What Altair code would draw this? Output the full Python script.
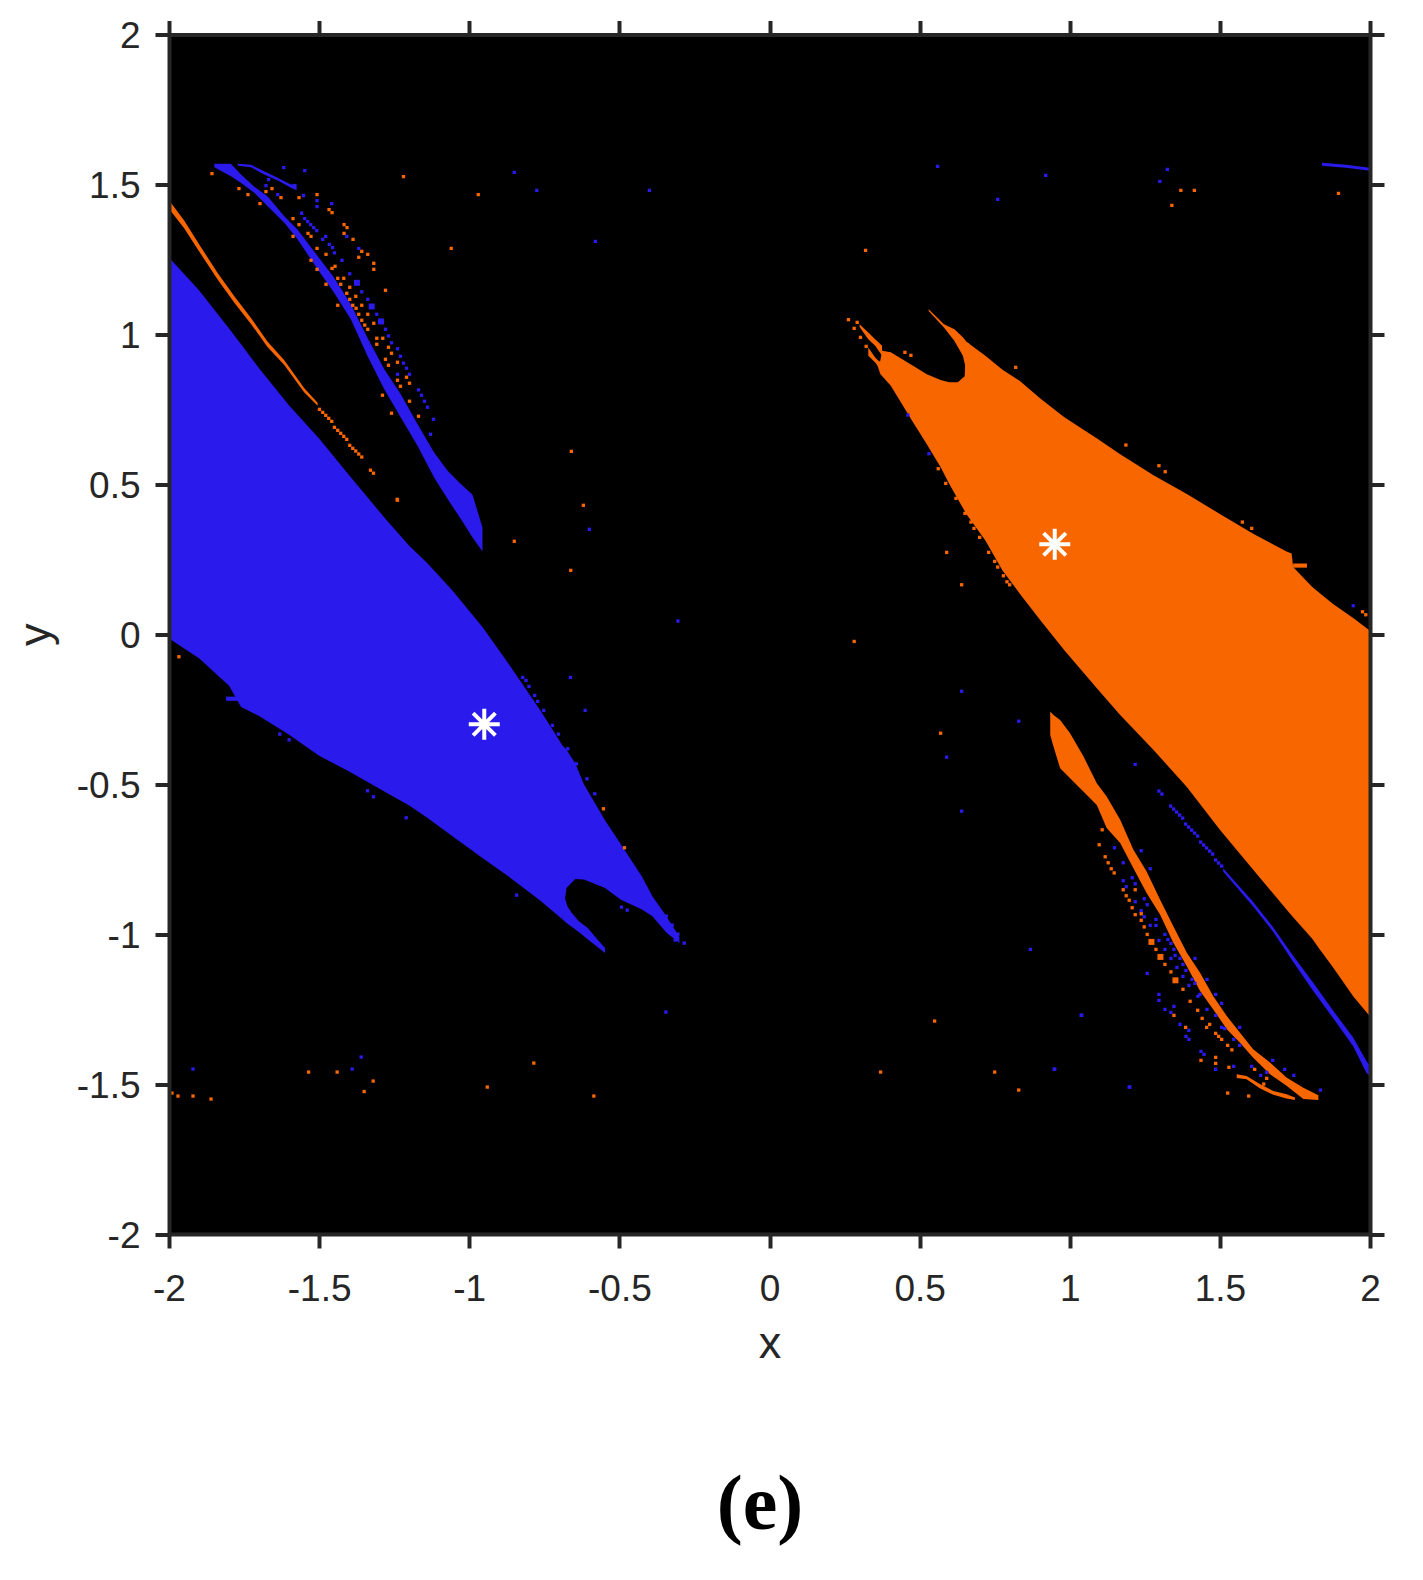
import altair as alt
import pandas as pd

BLUE = "#2A1AEC"
ORANGE = "#F86600"
TICKS = [-2, -1.5, -1, -0.5, 0, 0.5, 1, 1.5, 2]
panel_label = "(e)"

# Filled regions: (x, upper y, lower y)
blue_main = [(-2.0,1.256,-0.014),(-1.90,1.147,-0.08),(-1.80,1.020,-0.172),(-1.76,0.967,-0.243),(-1.70,0.887,-0.273),
 (-1.60,0.763,-0.335),(-1.50,0.653,-0.405),(-1.40,0.530,-0.458),(-1.28,0.386,-0.526),(-1.20,0.295,-0.571),
 (-1.14,0.238,-0.612),(-1.056,0.146,-0.674),(-0.956,0.024,-0.746),(-0.869,-0.098,-0.808),(-0.764,-0.253,-0.888),
 (-0.69,-0.37,-0.95),(-0.676,-0.385,-0.846),(-0.647,-0.43,-0.816),(-0.618,-0.50,-0.818),(-0.548,-0.62,-0.846),
 (-0.495,-0.70,-0.885),(-0.425,-0.808,-0.918),(-0.39,-0.874,-0.94),(-0.343,-0.941,-0.995),(-0.30,-1.01,-1.03)]
blue_branch = [(-0.69,-0.85,-0.95),(-0.673,-0.907,-0.965),(-0.659,-0.929,-0.975),(-0.635,-0.957,-0.993),
 (-0.606,-0.979,-1.017),(-0.577,-1.013,-1.04),(-0.548,-1.046,-1.063)]
blue_spur = [(-1.81,-0.208,-0.222),(-1.77,-0.208,-0.222)]
blue_band = [(-1.849,1.569,1.557),(-1.794,1.569,1.527),(-1.76,1.533,1.505),(-1.716,1.492,1.472),(-1.672,1.461,1.428),
 (-1.616,1.394,1.372),(-1.572,1.35,1.317),(-1.505,1.261,1.217),(-1.45,1.189,1.139),(-1.394,1.10,1.05),
 (-1.339,0.989,0.928),(-1.283,0.884,0.817),(-1.228,0.80,0.723),(-1.172,0.70,0.628),(-1.117,0.606,0.523),
 (-1.072,0.545,0.451),(-1.028,0.501,0.384),(-0.989,0.465,0.323),(-0.956,0.356,0.276)]
blue_arc = [(-1.771,1.569,1.562),(-1.727,1.566,1.557),(-1.683,1.544,1.533),(-1.638,1.522,1.513),(-1.594,1.50,1.489),(-1.575,1.502,1.481)]
blue_stripe = [(1.511,-0.78,-0.791),(1.611,-0.893,-0.908),(1.678,-0.978,-0.993),(1.744,-1.072,-1.092),(1.811,-1.162,-1.19),
 (1.877,-1.255,-1.28),(1.944,-1.345,-1.374),(1.988,-1.423,-1.462),(2.0,-1.44,-1.475)]
blue_top_line = [(1.84,1.572,1.562),(1.92,1.566,1.556),(2.0,1.556,1.546)]

orange_main = [(0.36,0.905,0.895),(0.369,0.912,0.868),(0.375,0.945,0.861),(0.404,0.94,0.829),(0.478,0.895,0.707),(0.524,0.867,0.634),
 (0.57,0.848,0.557),(0.598,0.84,0.503),(0.627,0.84,0.451),(0.65,0.86,0.411),(0.656,0.975,0.40),(0.719,0.929,0.313),
 (0.776,0.882,0.213),(0.833,0.845,0.136),(0.902,0.786,0.047),(0.982,0.724,-0.053),(1.091,0.653,-0.181),
 (1.168,0.60,-0.269),(1.279,0.53,-0.386),(1.39,0.468,-0.509),(1.5,0.401,-0.652),(1.611,0.335,-0.785),
 (1.722,0.276,-0.918),(1.739,0.269,-0.938),(1.744,0.224,-0.944),(1.807,0.158,-1.015),(1.833,0.137,-1.051),
 (1.876,0.102,-1.11),(1.944,0.054,-1.207),(2.0,0.012,-1.275)]
orange_branch = [(0.53,1.084,1.078),(0.581,1.034,1.023),(0.616,1.017,0.978),(0.644,0.99,0.929),(0.656,0.975,0.879),(0.667,0.967,0.85)]
orange_spur = [(1.744,0.236,0.222),(1.79,0.236,0.222)]
orange_tail_a = [(0.30,1.034,1.025),(0.329,1.006,0.984),(0.352,0.984,0.962),(0.375,0.962,0.929)]
orange_tail_b = [(0.329,0.956,0.929),(0.352,0.923,0.906),(0.369,0.906,0.884)]
orange_band = [(0.935,-0.258,-0.336),(0.946,-0.269,-0.375),(0.968,-0.286,-0.447),(1.001,-0.33,-0.48),(1.046,-0.408,-0.525),
 (1.09,-0.497,-0.569),(1.123,-0.541,-0.646),(1.168,-0.619,-0.696),(1.212,-0.719,-0.78),(1.256,-0.791,-0.863),
 (1.301,-0.885,-0.935),(1.345,-0.974,-1.029),(1.39,-1.062,-1.107),(1.434,-1.129,-1.19),(1.478,-1.207,-1.251),
 (1.523,-1.273,-1.317),(1.567,-1.329,-1.362),(1.611,-1.384,-1.412),(1.667,-1.428,-1.467),(1.722,-1.478,-1.506),
 (1.778,-1.512,-1.55),(1.828,-1.537,-1.553)]
orange_arc = [(1.556,-1.467,-1.48),(1.589,-1.473,-1.484),(1.633,-1.50,-1.514),(1.678,-1.523,-1.536),(1.722,-1.534,-1.548),(1.75,-1.545,-1.553)]
orange_stripe = [(-2.0,1.447,1.419),(-1.949,1.379,1.353),(-1.893,1.29,1.266),(-1.838,1.205,1.183),(-1.783,1.128,1.106),
 (-1.727,1.055,1.035),(-1.672,0.976,0.958),(-1.616,0.914,0.898),(-1.55,0.821,0.807),(-1.505,0.772,0.762)]

blue_regions = [blue_main, blue_branch, blue_spur, blue_band, blue_arc, blue_stripe, blue_top_line]
orange_regions = [orange_main, orange_branch, orange_spur, orange_tail_a, orange_tail_b, orange_band, orange_arc, orange_stripe]

# Isolated cells
blue_dots = [(-1.618,1.556),(-1.548,1.546),(-1.668,1.516),(-1.677,1.496),(-1.638,1.466),(-1.507,1.446),(-1.507,1.426),(-1.458,1.436),
 (-1.548,1.386),(-1.538,1.376),(-1.528,1.366),(-1.518,1.356),(-1.508,1.346),(-1.478,1.327),(-1.488,1.317),(-1.408,1.327),(-1.368,1.287),
 (-1.398,1.202),(-1.358,1.142),(-1.338,1.117),(-1.308,1.067),(-1.279,1.017),(-1.239,0.952),(-1.229,0.927),(-1.209,0.887),(-1.239,0.867),
 (-1.199,0.867),(-1.159,0.797),(-1.149,0.777),(-1.139,0.757),(-1.119,0.717),(-1.129,0.667),(-1.466,1.30),(-1.455,1.289),(-1.449,1.272),
 (-1.424,1.247),(-1.269,0.995),(-1.259,0.972),(-1.219,0.904),(-1.169,0.815),(-1.558,1.404),(-1.552,1.463),
 (1.297,-0.523),(1.307,-0.533),(1.336,-0.573),(1.346,-0.583),(1.356,-0.593),(1.366,-0.603),(1.376,-0.613),(1.386,-0.633),(1.396,-0.643),
 (1.406,-0.653),(1.416,-0.663),(1.426,-0.673),(1.436,-0.693),(1.446,-0.703),(1.456,-0.713),(1.466,-0.723),(1.476,-0.733),(1.486,-0.753),
 (1.496,-0.763),(1.506,-0.773),(1.218,-0.434),
 (1.149,-0.712),(1.238,-0.722),(1.178,-0.762),(1.268,-0.782),(1.208,-0.812),(1.178,-0.822),(1.218,-0.832),(1.188,-0.842),(1.248,-0.882),
 (1.218,-0.892),(1.258,-0.902),(1.238,-0.922),(1.248,-0.942),(1.287,-0.951),(1.268,-0.971),(1.287,-0.971),(1.317,-1.001),(1.327,-1.018),
 (1.297,-1.021),(1.337,-1.031),(1.317,-1.051),(1.347,-1.051),(1.417,-1.081),(1.337,-1.081),(1.367,-1.081),(1.351,-1.071),(1.377,-1.101),
 (1.357,-1.111),(1.387,-1.121),(1.377,-1.141),(1.407,-1.151),(1.397,-1.171),(1.417,-1.164),(1.457,-1.151),(1.486,-1.201),(1.434,-1.201),
 (1.427,-1.207),(1.297,-1.201),(1.297,-1.221),(1.347,-1.241),(1.317,-1.251),(1.337,-1.261),(1.457,-1.251),(1.506,-1.231),(1.486,-1.271),
 (1.367,-1.301),(1.397,-1.321),(1.387,-1.341),(1.397,-1.351),(1.506,-1.311),(1.516,-1.315),(1.566,-1.311),(1.546,-1.351),(1.566,-1.371),
 (1.437,-1.391),(1.447,-1.401),(1.486,-1.451),(1.546,-1.441),(1.606,-1.441),(1.636,-1.471),(1.656,-1.461),(1.676,-1.421),(1.716,-1.451),
 (1.746,-1.471),(1.835,-1.52),(0.869,-1.051),(1.258,-1.131),(1.038,-1.271),(0.948,-1.451),(1.198,-1.51),
 (-0.822,-0.144),(-0.811,-0.154),(-0.801,-0.174),(-0.782,-0.204),(-0.772,-0.224),(-0.752,-0.254),(-0.723,-0.304),(-0.703,-0.333),
 (-0.672,-0.382),(-0.643,-0.432),(-0.608,-0.482),(-0.582,-0.532),(-0.663,-0.144),(-0.614,-0.254),(-0.305,0.044),(-1.631,-0.333),
 (-1.6,-0.352),(-1.339,-0.522),(-1.319,-0.542),(-1.21,-0.612),(-0.842,-0.87),(-0.493,-0.91),(-0.474,-0.92),(-0.344,-0.94),(-0.324,-0.97),
 (-0.305,-1.0),(-0.314,-1.02),(-0.284,-1.03),
 (0.461,0.731),(0.531,0.602),(1.944,0.095),
 (-0.85,1.54),(-0.775,1.48),(-0.40,1.48),(-0.58,1.31),(-0.60,0.35),(0.56,1.56),(0.92,1.53),(0.76,1.45),(1.30,1.51),(1.325,1.55),
 (0.83,-0.29),(0.64,-0.19),(0.59,-0.41),(0.64,-0.59),(-0.345,-1.26),(1.04,-1.27),(0.95,-1.45),(1.2,-1.51),(-1.92,-1.45),(-1.39,-1.45),(-1.36,-1.41)]
blue_blobs = [(-1.374,1.172),(-1.325,1.093),(-1.294,1.043)]

orange_dots = [(-1.857,1.536),(-1.767,1.486),(-1.737,1.466),(-1.697,1.436),(-1.677,1.476),(-1.657,1.486),(-1.627,1.456),(-1.567,1.456),
 (-1.507,1.466),(-1.467,1.416),(-1.457,1.406),(-1.587,1.386),(-1.567,1.366),(-1.587,1.327),(-1.537,1.337),(-1.527,1.327),(-1.417,1.366),
 (-1.407,1.356),(-1.417,1.337),(-1.387,1.317),(-1.507,1.287),(-1.477,1.267),(-1.527,1.247),(-1.507,1.217),(-1.457,1.22),(-1.447,1.227),
 (-1.358,1.277),(-1.338,1.267),(-1.368,1.257),(-1.318,1.237),(-1.318,1.217),(-1.477,1.167),(-1.438,1.187),(-1.428,1.167),(-1.418,1.187),
 (-1.398,1.157),(-1.408,1.137),(-1.398,1.117),(-1.378,1.127),(-1.279,1.147),(-1.438,1.097),(-1.388,1.097),(-1.358,1.097),(-1.377,1.087),
 (-1.368,1.067),(-1.338,1.067),(-1.358,1.047),(-1.348,1.031),(-1.338,1.017),(-1.318,1.037),(-1.308,0.987),(-1.288,0.987),(-1.308,0.967),
 (-1.269,0.957),(-1.259,0.937),(-1.279,0.917),(-1.239,0.907),(-1.269,0.897),(-1.209,0.857),(-1.239,0.847),(-1.199,0.837),(-1.229,0.827),
 (-1.289,0.797),(-1.199,0.777),(-1.259,0.737),(-1.169,0.727),(-1.329,0.547),(-1.319,0.537),(-1.239,0.447),(-1.219,1.526),(-0.97,1.466),(-1.06,1.287),
 (-1.499,0.75),(-1.488,0.74),(-1.478,0.73),(-1.468,0.72),(-1.458,0.71),(-1.449,0.69),(-1.438,0.68),(-1.428,0.67),(-1.418,0.66),(-1.408,0.65),
 (-1.398,0.63),(-1.388,0.62),(-1.378,0.611),(-1.368,0.601),(-1.358,0.591),
 (1.108,-0.652),(1.098,-0.702),(1.118,-0.742),(1.128,-0.762),(1.138,-0.782),(1.148,-0.796),(1.178,-0.852),(1.218,-0.852),(1.188,-0.872),
 (1.198,-0.887),(1.208,-0.912),(1.218,-0.935),(1.238,-0.932),(1.238,-0.954),(1.248,-0.976),(1.258,-1.001),(1.287,-1.051),(1.317,-1.101),
 (1.337,-1.126),(1.377,-1.184),(1.401,-1.224),(1.426,-1.254),(1.441,-1.281),(1.347,-1.271),(1.386,-1.311),(1.466,-1.301),(1.456,-1.311),
 (1.486,-1.331),(1.496,-1.341),(1.506,-1.351),(1.526,-1.371),(1.54,-1.386),(1.486,-1.411),(1.486,-1.431),(1.437,-1.421),(1.53,-1.444),
 (1.616,-1.451),(1.656,-1.481),(1.646,-1.5),(1.526,-1.53),(1.596,-1.54),
 (0.263,1.049),(0.292,1.04),(0.282,1.02),(0.303,0.99),(0.322,0.96),(0.451,0.94),(0.471,0.93),(0.82,0.89),(1.187,0.631),(1.297,0.562),
 (1.318,0.542),(1.575,0.374),(1.606,0.353),(0.562,0.552),(0.587,0.503),(0.621,0.453),(0.651,0.403),(0.671,0.374),(0.681,0.353),(0.70,0.323),
 (0.73,0.273),(0.75,0.243),(0.76,0.224),(0.779,0.195),(0.791,0.175),(0.80,0.165),(0.59,0.273),(0.64,0.165),(0.282,-0.024),(1.975,0.075),(1.986,0.065),
 (-0.662,0.213),(-1.967,-0.075),(-0.553,-0.582),(-0.483,-0.712),
 (-0.66,0.61),(-0.62,0.43),(-0.85,0.31),(-1.24,0.45),(1.37,1.48),(1.415,1.48),(1.34,1.43),(0.32,1.28),(1.895,1.47),(0.57,-0.33),
 (0.55,-1.29),(0.37,-1.46),(0.75,-1.46),(0.83,-1.52),(-1.99,-1.53),(-1.97,-1.54),(-1.92,-1.54),(-1.86,-1.55),(-1.535,-1.46),(-1.44,-1.46),
 (-1.32,-1.49),(-1.35,-1.525),(-0.785,-1.43),(-0.94,-1.51),(-0.585,-1.54)]
orange_blobs = [(1.272,-1.026),(1.302,-1.076),(1.352,-1.154)]

star_x = [-0.95, 0.95]
star_y = [-0.30, 0.30]

x_scale = alt.Scale(domain=[-2, 2], nice=False, zero=False)
y_scale = alt.Scale(domain=[-2, 2], nice=False, zero=False)
FONT = "Liberation Sans"
INK = "#262626"
LABEL_EXPR = "toString(datum.value)"


def axis(orient, title=None, labels=True, **kw):
    return alt.Axis(orient=orient, values=TICKS, title=title, labels=labels, grid=False, domain=True,
                    domainColor=INK, domainWidth=4, tickColor=INK, tickWidth=4, tickSize=14,
                    labelFont=FONT, labelFontSize=37, labelColor=INK, labelExpr=LABEL_EXPR,
                    labelFlush=False, labelOverlap=False, labelBound=False,
                    titleFont=FONT, titleFontSize=45, titleColor=INK, titleFontWeight="normal",
                    zindex=2, **kw)


def region_frame(regions):
    rows = []
    for i, part in enumerate(regions):
        rows += [{"part": i, "x": a, "top": b, "bottom": c} for a, b, c in part]
    return pd.DataFrame(rows)


def dots_frame(dots):
    return pd.DataFrame(dots, columns=["x", "y"])


def area_layer(regions, color):
    return alt.Chart(region_frame(regions)).mark_area(color=color, opacity=1, clip=True).encode(
        x=alt.X("x:Q", scale=x_scale, axis=None),
        y=alt.Y("top:Q", scale=y_scale, axis=None),
        y2="bottom:Q",
        detail="part:N",
    )


def dot_layer(dots, color, size):
    return alt.Chart(dots_frame(dots)).mark_square(color=color, size=size, opacity=1, clip=True).encode(
        x=alt.X("x:Q", scale=x_scale, axis=None),
        y=alt.Y("y:Q", scale=y_scale, axis=None),
    )


base_axes = alt.Chart(pd.DataFrame({"x": [-2], "y": [-2]})).mark_point(opacity=0).encode(
    x=alt.X("x:Q", scale=x_scale, axis=axis("bottom", title="x", labelPadding=23, titlePadding=14)),
    y=alt.Y("y:Q", scale=y_scale, axis=axis("left", title="y", labelPadding=15, titlePadding=18, labelOffset=2)),
)
opposite_axes = alt.Chart(pd.DataFrame({"x": [2], "y": [2]})).mark_point(opacity=0).encode(
    x=alt.X("x:Q", scale=x_scale, axis=axis("top", labels=False)),
    y=alt.Y("y:Q", scale=y_scale, axis=axis("right", labels=False)),
)

stars = alt.Chart(pd.DataFrame({"x": star_x, "y": star_y})).mark_point(
    shape="M-1,0L1,0M0,-1L0,1M-0.72,-0.72L0.72,0.72M-0.72,0.72L0.72,-0.72",
    filled=False, stroke="white", strokeWidth=4, size=961, opacity=1,
).encode(
    x=alt.X("x:Q", scale=x_scale, axis=None),
    y=alt.Y("y:Q", scale=y_scale, axis=None),
)

label = alt.Chart(pd.DataFrame({"t": [panel_label]})).mark_text(
    font="Liberation Serif", fontWeight="bold", fontSize=78, color="black", align="center", baseline="alphabetic",
).encode(x=alt.value(591), y=alt.value(1494), text="t:N")

chart = alt.layer(
    base_axes,
    opposite_axes,
    area_layer(blue_regions, BLUE),
    area_layer(orange_regions, ORANGE),
    dot_layer(blue_dots, BLUE, 11),
    dot_layer(blue_blobs, BLUE, 36),
    dot_layer(orange_dots, ORANGE, 11),
    dot_layer(orange_blobs, ORANGE, 36),
    stars,
    label,
).resolve_axis(x="independent", y="independent").properties(
    width=1201, height=1199.5, background="white",
    autosize=alt.AutoSizeParams(type="none"),
    padding={"left": 161, "top": 26.5, "right": 45, "bottom": 330},
).configure_view(fill="black", stroke=None)

chart.save("out.html", embed_options={"renderer": "svg", "actions": False})
